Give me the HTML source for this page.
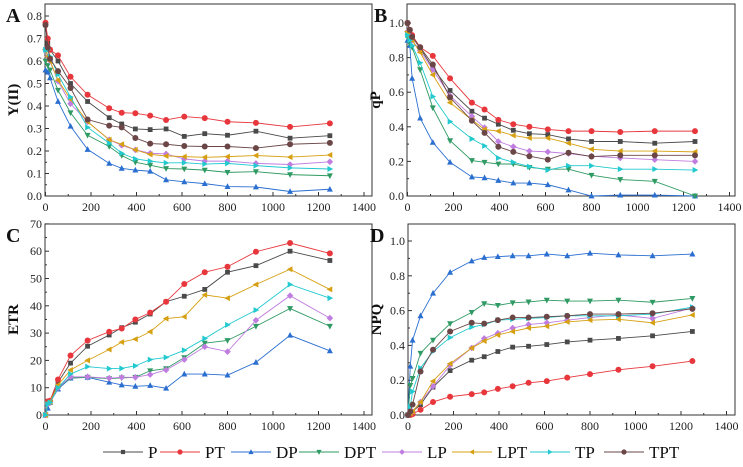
<!DOCTYPE html>
<html><head><meta charset="utf-8">
<style>
html,body{margin:0;padding:0;background:#fff;}
svg{display:block;font-family:"Liberation Serif",serif;}
</style></head>
<body>
<svg id="chart" width="743" height="467" viewBox="0 0 743 467" xmlns="http://www.w3.org/2000/svg"></svg>
<script>
const PAR = [0,10,20,55,110,185,280,335,395,460,530,610,700,800,925,1075,1250];
const seriesNames = ['P','PT','DP','DPT','LP','LPT','TP','TPT'];
const xTicks = [0,200,400,600,800,1000,1200,1400];
const yTicksA = [0,0.1,0.2,0.3,0.4,0.5,0.6,0.7,0.8];
const yTicksB = [0,0.2,0.4,0.6,0.8,1.0];
const yTicksC = [0,10,20,30,40,50,60,70];
const yTicksD = [0,0.2,0.4,0.6,0.8,1.0];

const A_P   = [0.76,0.68,0.65,0.60,0.50,0.42,0.348,0.32,0.298,0.295,0.298,0.265,0.277,0.27,0.288,0.257,0.268];
const A_PT  = [0.77,0.70,0.65,0.625,0.53,0.45,0.39,0.37,0.368,0.357,0.338,0.353,0.346,0.33,0.325,0.307,0.323];
const A_DP  = [0.56,0.55,0.525,0.42,0.31,0.207,0.145,0.123,0.115,0.11,0.072,0.063,0.055,0.042,0.04,0.02,0.03];
const A_DPT = [0.60,0.58,0.56,0.47,0.37,0.27,0.22,0.18,0.15,0.137,0.122,0.12,0.115,0.105,0.108,0.095,0.09];
const A_LP  = [0.65,0.62,0.60,0.51,0.41,0.33,0.25,0.225,0.205,0.19,0.187,0.165,0.155,0.155,0.145,0.14,0.152];
const A_LPT = [0.65,0.62,0.60,0.515,0.43,0.33,0.25,0.23,0.205,0.185,0.178,0.175,0.172,0.175,0.18,0.173,0.182];
const A_TP  = [0.65,0.65,0.62,0.54,0.44,0.305,0.235,0.19,0.165,0.155,0.147,0.148,0.142,0.145,0.135,0.125,0.12];
const A_TPT = [0.76,0.66,0.61,0.555,0.48,0.34,0.313,0.305,0.258,0.233,0.23,0.222,0.22,0.22,0.213,0.23,0.236];

const B_P   = [1.0,0.95,0.92,0.855,0.74,0.61,0.49,0.45,0.415,0.38,0.36,0.355,0.33,0.315,0.315,0.305,0.315];
const B_PT  = [1.0,0.96,0.93,0.86,0.81,0.68,0.54,0.50,0.44,0.415,0.40,0.385,0.375,0.375,0.37,0.375,0.375];
const B_DP  = [0.90,0.87,0.68,0.45,0.31,0.195,0.11,0.105,0.09,0.075,0.075,0.065,0.035,0.0,0.005,0.005,0.0];
const B_DPT = [0.92,0.88,0.86,0.73,0.51,0.32,0.205,0.195,0.185,0.185,0.165,0.155,0.155,0.12,0.095,0.085,0.0];
const B_LP  = [0.95,0.93,0.90,0.84,0.73,0.58,0.46,0.395,0.315,0.285,0.26,0.255,0.245,0.23,0.22,0.21,0.20];
const B_LPT = [0.95,0.92,0.90,0.83,0.70,0.54,0.44,0.385,0.375,0.35,0.335,0.335,0.305,0.27,0.26,0.26,0.255];
const B_TP  = [0.93,0.90,0.87,0.77,0.575,0.43,0.33,0.29,0.22,0.195,0.17,0.15,0.175,0.175,0.155,0.155,0.15];
const B_TPT = [1.0,0.96,0.92,0.86,0.76,0.57,0.435,0.365,0.285,0.255,0.23,0.21,0.25,0.228,0.235,0.235,0.235];

const C_P   = [0,4.8,5,12,19,25.2,29.3,32,34,37,41.5,43.5,46,52.3,54.7,60,56.6];
const C_PT  = [0,5,5.2,13,21.8,27.3,30.5,31.7,35,37.5,41.5,48,52.3,54.3,59.8,63,59.2];
const C_DP  = [0,2.5,4.6,9.5,13.5,13.8,12,11,10.5,10.8,9.8,15,15,14.6,19.3,29.2,23.5];
const C_DPT = [0,4,4.5,10,13.6,13.8,13.3,13.6,13.8,16.2,17,21,26.3,27.3,32.5,39,32.5];
const C_LP  = [0,4,4.5,10,14,14,13.5,13.8,13.8,14.8,16.5,20.3,25,23.2,34.7,43.7,35.5];
const C_LPT = [0,4.5,4.8,11,16.5,20,24,26.7,27.8,30.5,35.3,36,44,42.8,47.8,53.4,46];
const C_TP  = [0,4,4.6,10,15,17.7,17,17.1,18,20.3,21.1,23.7,28,33,38.4,47.8,42.8];
const C_TPT = null;

const D_P   = [0,0.01,0.02,0.06,0.16,0.255,0.315,0.335,0.365,0.39,0.395,0.405,0.42,0.43,0.44,0.455,0.48];
const D_PT  = [0,0,0.005,0.03,0.075,0.105,0.12,0.13,0.15,0.165,0.185,0.195,0.215,0.235,0.26,0.28,0.31];
const D_DP  = [0.0,0.28,0.43,0.57,0.70,0.82,0.885,0.905,0.91,0.915,0.915,0.925,0.915,0.93,0.92,0.915,0.925];
const D_DPT = [0.0,0.17,0.21,0.355,0.43,0.525,0.59,0.64,0.63,0.645,0.65,0.66,0.655,0.655,0.66,0.648,0.67];
const D_LP  = [0,0.01,0.02,0.075,0.165,0.285,0.385,0.44,0.47,0.5,0.52,0.53,0.545,0.56,0.575,0.555,0.615];
const D_LPT = [0,0.01,0.02,0.075,0.195,0.295,0.385,0.425,0.46,0.48,0.5,0.51,0.535,0.545,0.55,0.53,0.575];
const D_TP  = [0,0.05,0.135,0.27,0.365,0.445,0.505,0.52,0.545,0.55,0.555,0.56,0.57,0.57,0.57,0.58,0.62];
const D_TPT = [0,0.02,0.06,0.25,0.375,0.48,0.53,0.525,0.545,0.56,0.56,0.565,0.57,0.58,0.58,0.585,0.61];

const colors = {P:'#4a4a4a',PT:'#e8373c',DP:'#2a6fd0',DPT:'#2f9a63',LP:'#c07de0',LPT:'#d6a012',TP:'#22c9cf',TPT:'#6b4646'};
const markers = {P:'square',PT:'circle',DP:'up',DPT:'down',LP:'diamond',LPT:'left',TP:'right',TPT:'circle'};

const svg = document.getElementById('chart');
const NS = 'http://www.w3.org/2000/svg';
function mk(tag, attrs, parent){const e=document.createElementNS(NS,tag);for(const k in attrs)e.setAttribute(k,attrs[k]);(parent||svg).appendChild(e);return e;}

function marker(g, type, cx, cy, color, s){
  let e;
  if(type==='square') e=mk('rect',{x:cx-s*0.8,y:cy-s*0.8,width:s*1.6,height:s*1.6,fill:color},g);
  else if(type==='circle') e=mk('circle',{cx:cx,cy:cy,r:s,fill:color},g);
  else {
    let p;
    if(type==='up') p=[[cx,cy-s*1.1],[cx-s,cy+s*0.8],[cx+s,cy+s*0.8]];
    if(type==='down') p=[[cx,cy+s*1.1],[cx-s,cy-s*0.8],[cx+s,cy-s*0.8]];
    if(type==='left') p=[[cx-s*1.1,cy],[cx+s*0.8,cy-s],[cx+s*0.8,cy+s]];
    if(type==='right') p=[[cx+s*1.1,cy],[cx-s*0.8,cy-s],[cx-s*0.8,cy+s]];
    if(type==='diamond') p=[[cx,cy-s*1.1],[cx+s*1.1,cy],[cx,cy+s*1.1],[cx-s*1.1,cy]];
    e=mk('polygon',{points:p.map(q=>q.join(',')).join(' '),fill:color},g);
  }
  return e;
}

function panel(cfg){
  const g = mk('g',{});
  
  
  const xs = v => cfg.x0 + v*cfg.kx;
  const ys = v => cfg.y0 - (v/cfg.yUnit)*cfg.ky;
  const fr = mk('rect',{x:cfg.left,y:cfg.top,width:cfg.right-cfg.left,height:cfg.y0-cfg.top,fill:'none',stroke:'#333','stroke-width':1},g);
  
  
  xTicks.forEach(t=>{
    const x=xs(t);
    mk('line',{x1:x,y1:cfg.y0,x2:x,y2:cfg.y0-4,stroke:'#333'},g);
    const tl=mk('text',{x:x,y:cfg.y0+15,'font-size':12,'text-anchor':'middle',fill:'#222'},g);
    tl.textContent=t;
    
    
    if(t<1400) mk('line',{x1:xs(t+100),y1:cfg.y0,x2:xs(t+100),y2:cfg.y0-2,stroke:'#333'},g);
  });
  cfg.yTicks.forEach((t,i)=>{
    const y=ys(t);
    mk('line',{x1:cfg.left,y1:y,x2:cfg.left+4,y2:y,stroke:'#333'},g);
    const tl=mk('text',{x:cfg.left-3,y:y+4,'font-size':12,'text-anchor':'end',fill:'#222'},g);
    tl.textContent=cfg.fmt(t);
    
    
    if(i<cfg.yTicks.length-1){const ym=ys((t+cfg.yTicks[i+1])/2);mk('line',{x1:cfg.left,y1:ym,x2:cfg.left+2,y2:ym,stroke:'#333'},g);}
  });
  const yt=mk('text',{x:0,y:0,'font-size':15,'font-weight':'bold','text-anchor':'middle',fill:'#111',transform:`translate(${cfg.left-27},${(cfg.top+cfg.y0)/2}) rotate(-90)`},g);
  yt.textContent=cfg.ylabel;
  
  
  const lt=mk('text',{x:cfg.letterX,y:cfg.letterY,'font-size':20,'font-weight':'bold',fill:'#111'},g);
  lt.textContent=cfg.letter;
  
  
  seriesNames.forEach(n=>{
    const vals=cfg.data[n];
    if(!vals) return;
    const sg=mk('g',{},g);
    
    
    const pts=vals.map((v,i)=>[xs(PAR[i]),ys(v)]);
    mk('polyline',{points:pts.map(p=>p.join(',')).join(' '),fill:'none',stroke:colors[n],'stroke-width':0.9},sg);
    pts.forEach(p=>{
      const m=marker(sg,markers[n],p[0],p[1],colors[n],3);
      
      
    });
  });
}

panel({letter:'A',letterX:6,letterY:22,left:45,right:372,top:4,y0:196,x0:45.5,kx:0.2275,ky:22.5,yUnit:0.1,yTicks:yTicksA,fmt:t=>t.toFixed(1),ylabel:'Y(II)',
  data:{P:A_P,PT:A_PT,DP:A_DP,DPT:A_DPT,LP:A_LP,LPT:A_LPT,TP:A_TP,TPT:A_TPT}});
panel({letter:'B',letterX:374,letterY:22,left:407,right:735,top:4,y0:196,x0:407.5,kx:0.23,ky:173,yUnit:1,yTicks:yTicksB,fmt:t=>t.toFixed(1),ylabel:'qP',
  data:{P:B_P,PT:B_PT,DP:B_DP,DPT:B_DPT,LP:B_LP,LPT:B_LPT,TP:B_TP,TPT:B_TPT}});
panel({letter:'C',letterX:6,letterY:242,left:45,right:372,top:224,y0:415,x0:45.5,kx:0.2275,ky:27.3,yUnit:10,yTicks:yTicksC,fmt:t=>String(t),ylabel:'ETR',
  data:{P:C_P,PT:C_PT,DP:C_DP,DPT:C_DPT,LP:C_LP,LPT:C_LPT,TP:C_TP,TPT:C_TPT}});
panel({letter:'D',letterX:370,letterY:242,left:408,right:735,top:224,y0:415,x0:408,kx:0.2275,ky:174,yUnit:1,yTicks:yTicksD,fmt:t=>t.toFixed(1),ylabel:'NPQ',
  data:{P:D_P,PT:D_PT,DP:D_DP,DPT:D_DPT,LP:D_LP,LPT:D_LPT,TP:D_TP,TPT:D_TPT}});

// legend
const legX = [103,160,231,299,382,452,530,604];
const lg = mk('g',{});


seriesNames.forEach((n,i)=>{
  const eg=mk('g',{},lg);
  
  
  const x=legX[i], y=452;
  mk('line',{x1:x,y1:y,x2:x+40,y2:y,stroke:colors[n],'stroke-width':1},eg);
  marker(eg,markers[n],x+20,y,colors[n],2.6);
  const t=mk('text',{x:x+45,y:y+6,'font-size':17,fill:'#111'},eg);
  t.textContent=n;
});
</script>
</body></html>
